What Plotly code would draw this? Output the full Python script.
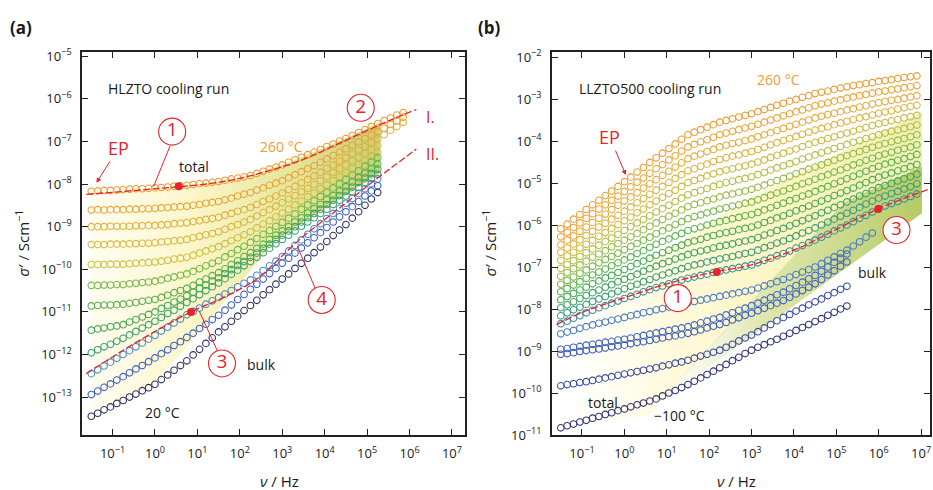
import plotly.graph_objects as go

# ---------------- data (log10 values) ----------------
FREQ_EXP = [-1.5, -1.35, -1.2, -1.05, -0.9, -0.75, -0.6, -0.45, -0.3, -0.15,
            0.0, 0.15, 0.3, 0.45, 0.6, 0.75, 0.9, 1.05, 1.2, 1.35,
            1.5, 1.65, 1.8, 1.95, 2.1, 2.25, 2.4, 2.55, 2.7, 2.85,
            3.0, 3.15, 3.3, 3.45, 3.6, 3.75, 3.9, 4.05, 4.2, 4.35,
            4.5, 4.65, 4.8, 4.95, 5.1, 5.25, 5.4, 5.55, 5.7, 5.85,
            6.0, 6.15, 6.3, 6.45, 6.6, 6.75, 6.9]

# panel (a) HLZTO, 260 C (top) ... 20 C (bottom), log10(sigma / S cm-1)
HLZTO_R1 = [-8.17, -8.16, -8.15, -8.15, -8.14, -8.13, -8.12, -8.11, -8.11, -8.10, -8.09, -8.08, -8.07, -8.05, -8.04, -8.03, -8.01, -7.99, -7.98, -7.96, -7.94, -7.91, -7.88, -7.86, -7.83, -7.80, -7.75, -7.70, -7.65, -7.60, -7.55, -7.49, -7.43, -7.37, -7.31, -7.25, -7.19, -7.12, -7.06, -6.99, -6.93, -6.86, -6.79, -6.72, -6.65, -6.58, -6.51, -6.45, -6.38, -6.32]
HLZTO_R2 = [-8.61, -8.60, -8.61, -8.60, -8.60, -8.60, -8.59, -8.59, -8.58, -8.58, -8.57, -8.56, -8.55, -8.54, -8.53, -8.52, -8.50, -8.48, -8.45, -8.43, -8.41, -8.37, -8.33, -8.28, -8.24, -8.20, -8.14, -8.09, -8.03, -7.98, -7.92, -7.85, -7.78, -7.71, -7.64, -7.57, -7.49, -7.41, -7.33, -7.25, -7.17, -7.09, -7.01, -6.93, -6.85, -6.77, -6.69, -6.60, -6.52, -6.43]
HLZTO_R3 = [-9.00, -9.00, -9.00, -8.99, -8.99, -8.99, -8.99, -8.98, -8.98, -8.97, -8.97, -8.96, -8.95, -8.93, -8.92, -8.91, -8.88, -8.86, -8.83, -8.81, -8.78, -8.73, -8.69, -8.64, -8.60, -8.55, -8.48, -8.41, -8.35, -8.28, -8.21, -8.13, -8.05, -7.97, -7.89, -7.81, -7.72, -7.63, -7.55, -7.46, -7.38, -7.29, -7.20, -7.12, -7.03, -6.94, -6.84, -6.74, -6.65, -6.55]
HLZTO_R4 = [-9.42, -9.42, -9.42, -9.41, -9.41, -9.41, -9.40, -9.40, -9.39, -9.39, -9.38, -9.36, -9.35, -9.33, -9.32, -9.30, -9.26, -9.23, -9.19, -9.16, -9.12, -9.06, -9.00, -8.95, -8.89, -8.83, -8.75, -8.67, -8.60, -8.52, -8.44, -8.35, -8.27, -8.18, -8.10, -8.01, -7.92, -7.83, -7.73, -7.64, -7.55, -7.46, -7.37, -7.28, -7.19, -7.10]
HLZTO_R5 = [-9.89, -9.89, -9.89, -9.88, -9.88, -9.88, -9.87, -9.86, -9.85, -9.84, -9.83, -9.81, -9.79, -9.76, -9.74, -9.72, -9.67, -9.62, -9.57, -9.52, -9.47, -9.40, -9.33, -9.26, -9.19, -9.12, -9.03, -8.94, -8.86, -8.77, -8.68, -8.59, -8.49, -8.40, -8.30, -8.21, -8.11, -8.02, -7.92, -7.83, -7.73, -7.63, -7.54, -7.44, -7.35, -7.25]
HLZTO_R6 = [-10.38, -10.38, -10.37, -10.37, -10.36, -10.36, -10.34, -10.33, -10.31, -10.30, -10.28, -10.25, -10.21, -10.18, -10.14, -10.11, -10.05, -9.99, -9.92, -9.86, -9.80, -9.71, -9.63, -9.54, -9.46, -9.37, -9.28, -9.18, -9.09, -8.99, -8.90, -8.80, -8.70, -8.59, -8.49, -8.39, -8.29, -8.19, -8.09, -7.99, -7.89, -7.79, -7.69, -7.58, -7.48, -7.38]
HLZTO_R7 = [-10.86, -10.85, -10.84, -10.84, -10.83, -10.82, -10.80, -10.78, -10.75, -10.73, -10.71, -10.66, -10.61, -10.55, -10.50, -10.45, -10.38, -10.30, -10.23, -10.15, -10.08, -9.99, -9.89, -9.80, -9.70, -9.61, -9.51, -9.41, -9.30, -9.20, -9.10, -9.00, -8.89, -8.79, -8.68, -8.58, -8.48, -8.37, -8.27, -8.16, -8.06, -7.95, -7.85, -7.74, -7.64, -7.53]
HLZTO_R8 = [-11.43, -11.40, -11.38, -11.35, -11.33, -11.30, -11.24, -11.18, -11.12, -11.06, -11.00, -10.92, -10.85, -10.77, -10.70, -10.62, -10.54, -10.45, -10.37, -10.28, -10.20, -10.10, -10.01, -9.91, -9.82, -9.72, -9.62, -9.51, -9.41, -9.30, -9.20, -9.10, -9.00, -8.89, -8.79, -8.69, -8.59, -8.48, -8.38, -8.27, -8.17, -8.07, -7.96, -7.86, -7.75, -7.65]
HLZTO_R9 = [-11.96, -11.89, -11.82, -11.76, -11.69, -11.62, -11.54, -11.46, -11.38, -11.30, -11.22, -11.13, -11.04, -10.96, -10.87, -10.78, -10.69, -10.60, -10.50, -10.41, -10.32, -10.22, -10.12, -10.02, -9.92, -9.82, -9.72, -9.61, -9.51, -9.40, -9.30, -9.20, -9.10, -8.99, -8.89, -8.79, -8.69, -8.59, -8.48, -8.38, -8.28, -8.18, -8.08, -7.97, -7.87, -7.77]
HLZTO_R10 = [-12.45, -12.36, -12.27, -12.18, -12.09, -12.00, -11.91, -11.82, -11.73, -11.64, -11.55, -11.45, -11.36, -11.26, -11.17, -11.07, -10.99, -10.91, -10.82, -10.74, -10.66, -10.58, -10.50, -10.41, -10.33, -10.25, -10.14, -10.03, -9.92, -9.81, -9.70, -9.57, -9.44, -9.31, -9.18, -9.05, -8.93, -8.81, -8.69, -8.57, -8.45, -8.34, -8.22, -8.11, -7.99, -7.88]
HLZTO_R11 = [-12.94, -12.86, -12.77, -12.69, -12.60, -12.52, -12.43, -12.34, -12.26, -12.17, -12.08, -11.98, -11.89, -11.79, -11.70, -11.60, -11.50, -11.39, -11.29, -11.18, -11.08, -10.96, -10.84, -10.71, -10.59, -10.47, -10.35, -10.23, -10.10, -9.98, -9.86, -9.74, -9.62, -9.50, -9.38, -9.26, -9.14, -9.02, -8.89, -8.77, -8.65, -8.53, -8.41, -8.28, -8.16, -8.04]
HLZTO_R12 = [-13.45, -13.38, -13.30, -13.23, -13.15, -13.08, -13.00, -12.93, -12.85, -12.78, -12.70, -12.59, -12.48, -12.37, -12.26, -12.15, -12.01, -11.88, -11.74, -11.61, -11.47, -11.35, -11.22, -11.10, -10.97, -10.85, -10.73, -10.60, -10.48, -10.35, -10.23, -10.11, -9.98, -9.86, -9.74, -9.61, -9.48, -9.35, -9.21, -9.08, -8.95, -8.80, -8.65, -8.50, -8.35, -8.20]
HLZTO_SERIES = [HLZTO_R1, HLZTO_R2, HLZTO_R3, HLZTO_R4, HLZTO_R5, HLZTO_R6,
                HLZTO_R7, HLZTO_R8, HLZTO_R9, HLZTO_R10, HLZTO_R11, HLZTO_R12]
HLZTO_COLORS = ["#EE9A2E", "#EAA336", "#E2AE3A", "#D8B73E", "#CDBF42", "#72B846",
                "#55B04A", "#44A85A", "#3AA070", "#4A8ACB", "#3E5EC0", "#2E3262"]

# fitted lines of panel (a)
FIT_I_F = [-1.62, 0.0, 1.5, 2.5, 3.5, 4.5, 5.5, 6.16]
FIT_I_S = [-8.24, -8.11, -7.96, -7.74, -7.42, -6.97, -6.52, -6.25]
FIT_II_F = [-1.62, -0.5, 0.85, 1.6, 2.38, 3.4, 4.3, 5.22, 6.16]
FIT_II_S = [-12.45, -11.75, -11.0, -10.67, -10.24, -9.31, -8.6, -7.88, -7.18]

# panel (b) LLZTO500, 260 C (top) ... -100 C (bottom)
LLZTO_T1 = [-6.09, -5.98, -5.86, -5.75, -5.63, -5.52, -5.41, -5.30, -5.19, -5.08, -4.97, -4.86, -4.74, -4.63, -4.51, -4.40, -4.29, -4.18, -4.07, -3.96, -3.85, -3.79, -3.73, -3.67, -3.61, -3.55, -3.51, -3.47, -3.43, -3.39, -3.35, -3.30, -3.25, -3.20, -3.15, -3.10, -3.05, -3.01, -2.96, -2.92, -2.87, -2.84, -2.81, -2.77, -2.74, -2.71, -2.68, -2.66, -2.63, -2.61, -2.58, -2.56, -2.54, -2.51, -2.49, -2.47, -2.45]
LLZTO_T2 = [-6.28, -6.17, -6.06, -5.95, -5.84, -5.73, -5.62, -5.52, -5.41, -5.31, -5.20, -5.09, -4.98, -4.88, -4.77, -4.66, -4.56, -4.45, -4.35, -4.24, -4.14, -4.08, -4.02, -3.97, -3.91, -3.85, -3.81, -3.77, -3.73, -3.69, -3.65, -3.60, -3.55, -3.50, -3.45, -3.40, -3.35, -3.30, -3.26, -3.21, -3.16, -3.12, -3.09, -3.05, -3.02, -2.98, -2.95, -2.92, -2.89, -2.86, -2.83, -2.81, -2.78, -2.76, -2.73, -2.71, -2.68]
LLZTO_T3 = [-6.47, -6.36, -6.26, -6.15, -6.05, -5.94, -5.84, -5.74, -5.63, -5.53, -5.43, -5.33, -5.23, -5.12, -5.02, -4.92, -4.82, -4.72, -4.62, -4.52, -4.42, -4.36, -4.31, -4.25, -4.20, -4.14, -4.10, -4.06, -4.03, -3.99, -3.95, -3.90, -3.85, -3.80, -3.75, -3.70, -3.65, -3.60, -3.55, -3.50, -3.45, -3.41, -3.37, -3.34, -3.30, -3.26, -3.23, -3.19, -3.16, -3.12, -3.09, -3.06, -3.03, -3.01, -2.98, -2.95, -2.92]
LLZTO_T4 = [-6.65, -6.55, -6.45, -6.35, -6.25, -6.15, -6.05, -5.96, -5.86, -5.77, -5.67, -5.57, -5.47, -5.37, -5.27, -5.17, -5.08, -4.99, -4.89, -4.80, -4.71, -4.66, -4.60, -4.55, -4.49, -4.44, -4.40, -4.36, -4.33, -4.29, -4.25, -4.20, -4.15, -4.09, -4.04, -3.99, -3.94, -3.89, -3.84, -3.79, -3.74, -3.70, -3.66, -3.61, -3.57, -3.53, -3.49, -3.45, -3.42, -3.38, -3.34, -3.31, -3.28, -3.24, -3.21, -3.18, -3.15]
LLZTO_T5 = [-6.84, -6.74, -6.65, -6.55, -6.46, -6.36, -6.27, -6.18, -6.08, -5.99, -5.90, -5.81, -5.71, -5.62, -5.52, -5.43, -5.34, -5.25, -5.17, -5.08, -4.99, -4.94, -4.89, -4.83, -4.78, -4.73, -4.69, -4.66, -4.62, -4.59, -4.55, -4.50, -4.45, -4.39, -4.34, -4.29, -4.24, -4.19, -4.13, -4.08, -4.03, -3.99, -3.94, -3.90, -3.85, -3.81, -3.77, -3.72, -3.68, -3.63, -3.59, -3.56, -3.52, -3.49, -3.45, -3.42, -3.39]
LLZTO_T6 = [-7.03, -6.94, -6.85, -6.75, -6.66, -6.57, -6.48, -6.39, -6.31, -6.22, -6.13, -6.04, -5.95, -5.87, -5.78, -5.69, -5.61, -5.53, -5.44, -5.36, -5.28, -5.23, -5.18, -5.13, -5.08, -5.03, -4.99, -4.96, -4.92, -4.89, -4.85, -4.80, -4.75, -4.69, -4.64, -4.59, -4.54, -4.49, -4.43, -4.38, -4.33, -4.28, -4.23, -4.18, -4.13, -4.08, -4.03, -3.99, -3.94, -3.90, -3.85, -3.81, -3.77, -3.74, -3.70, -3.66, -3.62]
LLZTO_T7 = [-7.22, -7.13, -7.04, -6.95, -6.86, -6.77, -6.69, -6.61, -6.52, -6.44, -6.36, -6.28, -6.20, -6.11, -6.03, -5.95, -5.87, -5.79, -5.72, -5.64, -5.56, -5.51, -5.47, -5.42, -5.38, -5.33, -5.29, -5.26, -5.22, -5.19, -5.15, -5.10, -5.05, -4.99, -4.94, -4.89, -4.84, -4.78, -4.73, -4.67, -4.62, -4.57, -4.51, -4.46, -4.40, -4.35, -4.30, -4.25, -4.20, -4.15, -4.10, -4.06, -4.02, -3.98, -3.94, -3.90, -3.85]
LLZTO_T8 = [-7.41, -7.32, -7.24, -7.15, -7.07, -6.98, -6.90, -6.82, -6.75, -6.67, -6.59, -6.51, -6.44, -6.36, -6.29, -6.21, -6.14, -6.07, -5.99, -5.92, -5.85, -5.80, -5.76, -5.71, -5.67, -5.62, -5.59, -5.55, -5.52, -5.48, -5.45, -5.40, -5.35, -5.29, -5.24, -5.19, -5.13, -5.08, -5.02, -4.97, -4.91, -4.85, -4.80, -4.74, -4.69, -4.63, -4.57, -4.52, -4.46, -4.41, -4.35, -4.31, -4.27, -4.22, -4.18, -4.14, -4.09]
LLZTO_T9 = [-7.59, -7.51, -7.43, -7.35, -7.27, -7.19, -7.12, -7.05, -6.97, -6.90, -6.83, -6.76, -6.68, -6.61, -6.53, -6.46, -6.39, -6.33, -6.26, -6.20, -6.13, -6.09, -6.05, -6.00, -5.96, -5.92, -5.89, -5.85, -5.82, -5.78, -5.75, -5.70, -5.64, -5.59, -5.53, -5.48, -5.42, -5.37, -5.31, -5.26, -5.20, -5.14, -5.08, -5.02, -4.96, -4.90, -4.84, -4.78, -4.72, -4.66, -4.60, -4.55, -4.51, -4.46, -4.42, -4.37, -4.32]
LLZTO_T10 = [-7.78, -7.70, -7.63, -7.55, -7.48, -7.40, -7.33, -7.26, -7.20, -7.13, -7.06, -6.99, -6.92, -6.86, -6.79, -6.72, -6.66, -6.60, -6.54, -6.48, -6.42, -6.38, -6.34, -6.29, -6.25, -6.21, -6.18, -6.15, -6.11, -6.08, -6.05, -6.00, -5.94, -5.89, -5.83, -5.78, -5.72, -5.66, -5.61, -5.55, -5.49, -5.43, -5.37, -5.30, -5.24, -5.18, -5.12, -5.05, -4.99, -4.92, -4.86, -4.81, -4.76, -4.71, -4.66, -4.61, -4.56]
LLZTO_T11 = [-7.97, -7.90, -7.83, -7.75, -7.68, -7.61, -7.55, -7.48, -7.42, -7.35, -7.29, -7.23, -7.17, -7.10, -7.04, -6.98, -6.92, -6.87, -6.81, -6.76, -6.70, -6.66, -6.62, -6.59, -6.55, -6.51, -6.48, -6.45, -6.41, -6.38, -6.35, -6.30, -6.24, -6.19, -6.13, -6.08, -6.02, -5.96, -5.90, -5.84, -5.78, -5.71, -5.65, -5.58, -5.52, -5.45, -5.38, -5.31, -5.25, -5.18, -5.11, -5.06, -5.01, -4.95, -4.90, -4.85, -4.79]
LLZTO_T12 = [-8.16, -8.09, -8.02, -7.96, -7.89, -7.82, -7.76, -7.70, -7.64, -7.58, -7.52, -7.46, -7.41, -7.35, -7.30, -7.24, -7.19, -7.14, -7.09, -7.04, -6.99, -6.95, -6.92, -6.88, -6.85, -6.81, -6.78, -6.75, -6.71, -6.68, -6.65, -6.60, -6.54, -6.49, -6.43, -6.38, -6.32, -6.26, -6.19, -6.13, -6.07, -6.00, -5.93, -5.86, -5.79, -5.72, -5.65, -5.58, -5.50, -5.43, -5.36, -5.31, -5.25, -5.20, -5.14, -5.09, -5.02]
LLZTO_T13 = [-8.35, -8.29, -8.22, -8.16, -8.09, -8.03, -7.97, -7.92, -7.86, -7.81, -7.75, -7.70, -7.65, -7.59, -7.54, -7.49, -7.45, -7.40, -7.36, -7.31, -7.27, -7.24, -7.20, -7.17, -7.13, -7.10, -7.07, -7.04, -7.01, -6.98, -6.95, -6.90, -6.84, -6.79, -6.73, -6.68, -6.62, -6.55, -6.49, -6.42, -6.36, -6.29, -6.22, -6.14, -6.07, -6.00, -5.92, -5.84, -5.77, -5.69, -5.61, -5.55, -5.49, -5.44, -5.38, -5.32, -5.26]
LLZTO_B1 = [-8.59, -8.55, -8.51, -8.46, -8.42, -8.38, -8.34, -8.31, -8.27, -8.24, -8.20, -8.16, -8.13, -8.09, -8.06, -8.02, -7.99, -7.95, -7.92, -7.88, -7.85, -7.82, -7.79, -7.76, -7.73, -7.70, -7.67, -7.64, -7.61, -7.58, -7.55, -7.50, -7.45, -7.40, -7.35, -7.30, -7.24, -7.18, -7.12, -7.06, -7.00, -6.92, -6.84, -6.76, -6.68, -6.60, -6.50, -6.40, -6.29, -6.19]
LLZTO_B2 = [-8.96, -8.94, -8.91, -8.89, -8.86, -8.84, -8.82, -8.79, -8.77, -8.74, -8.72, -8.69, -8.66, -8.63, -8.60, -8.57, -8.54, -8.51, -8.48, -8.45, -8.42, -8.38, -8.33, -8.29, -8.24, -8.20, -8.14, -8.09, -8.03, -7.98, -7.92, -7.86, -7.79, -7.73, -7.66, -7.60, -7.52, -7.44, -7.36, -7.28, -7.20, -7.10, -7.00, -6.89, -6.79, -6.69]
LLZTO_B3 = [-9.08, -9.06, -9.04, -9.01, -8.99, -8.97, -8.95, -8.93, -8.90, -8.88, -8.86, -8.83, -8.80, -8.78, -8.75, -8.72, -8.69, -8.66, -8.64, -8.61, -8.58, -8.54, -8.50, -8.45, -8.41, -8.37, -8.32, -8.26, -8.21, -8.15, -8.10, -8.04, -7.98, -7.92, -7.86, -7.80, -7.72, -7.64, -7.56, -7.48, -7.40, -7.30, -7.19, -7.09, -6.98, -6.88]
LLZTO_N1 = [-9.83, -9.80, -9.78, -9.75, -9.73, -9.70, -9.67, -9.64, -9.61, -9.58, -9.55, -9.52, -9.49, -9.46, -9.43, -9.40, -9.36, -9.33, -9.29, -9.26, -9.22, -9.17, -9.12, -9.08, -9.03, -8.98, -8.91, -8.84, -8.76, -8.69, -8.62, -8.54, -8.45, -8.37, -8.28, -8.20, -8.13, -8.05, -7.98, -7.90, -7.83, -7.76, -7.68, -7.61, -7.53, -7.46]
LLZTO_N2 = [-10.83, -10.78, -10.74, -10.69, -10.65, -10.60, -10.56, -10.51, -10.47, -10.42, -10.38, -10.33, -10.28, -10.24, -10.19, -10.14, -10.07, -10.00, -9.94, -9.87, -9.80, -9.72, -9.64, -9.56, -9.48, -9.40, -9.32, -9.23, -9.15, -9.06, -8.98, -8.91, -8.85, -8.78, -8.72, -8.65, -8.58, -8.51, -8.44, -8.37, -8.30, -8.23, -8.15, -8.08, -8.00, -7.93]
LLZTO_SERIES = [LLZTO_T1, LLZTO_T2, LLZTO_T3, LLZTO_T4, LLZTO_T5, LLZTO_T6, LLZTO_T7,
                LLZTO_T8, LLZTO_T9, LLZTO_T10, LLZTO_T11, LLZTO_T12, LLZTO_T13,
                LLZTO_B1, LLZTO_B2, LLZTO_B3, LLZTO_N1, LLZTO_N2]
LLZTO_COLORS = ["#EE9A2E", "#EEA232", "#E8AA38", "#DDB23C", "#CDB840", "#B5BC44", "#98BC46",
                "#78B848", "#5CB24C", "#48AA56", "#3EA266", "#3A9A7E", "#3C8CA0",
                "#4A7CC8", "#4268C2", "#3C5CBA", "#3A4AA6", "#2F3478"]

FIT_B_F = [-1.6, -0.92, -0.14, 1.04, 2.06, 3.0, 4.18, 4.58, 6.0, 7.2]
FIT_B_S = [-8.37, -8.05, -7.78, -7.39, -7.13, -6.95, -6.52, -6.32, -5.61, -5.14]

# shaded regions (outline vertices, log10 units)
SHADE_A_LOW_F = [5.3, 5.3, 2.87, -0.05, -1.5]
SHADE_A_LOW_S = [-6.56, -7.75, -9.29, -12.75, -13.38]
SHADE_BY_F = [-1.5, 0.6, 5.2, 7.02, 7.02, 3.0, 0.65, -1.5]
SHADE_BY_S = [-10.9, -10.5, -5.45, -4.6, -3.3, -5.33, -6.83, -8.3]
SHADE_BG_F = [0.6, 7.02, 7.02, 5.2, 2.69]
SHADE_BG_S = [-10.4, -5.72, -4.6, -5.45, -8.14]

X_TICK_EXP = [-1, 0, 1, 2, 3, 4, 5, 6, 7]
YA_TICK_EXP = [-13, -12, -11, -10, -9, -8, -7, -6, -5]
YB_TICK_EXP = [-11, -10, -9, -8, -7, -6, -5, -4, -3, -2]

RED = "#E8232B"
ORANGE = "#F29B30"
FONT = "Open Sans"


def p10(vals):
    return [10 ** v for v in vals]


def sup(e):
    return "10<sup>" + str(e).replace("-", "\u2212") + "</sup>"


fig = go.Figure()

# ---------- shading ----------
fig.add_trace(go.Scatter(
    x=p10(FREQ_EXP[:46] + SHADE_A_LOW_F), y=p10(HLZTO_R1[:46] + SHADE_A_LOW_S),
    mode="lines", line=dict(width=0), fill="toself",
    fillgradient=dict(type="horizontal", colorscale=[
        [0, "rgba(255,251,228,0.6)"], [0.35, "rgba(252,245,195,0.9)"],
        [0.7, "rgba(228,228,150,0.95)"], [1, "rgba(196,204,110,0.95)"]]),
    xaxis="x", yaxis="y", hoverinfo="skip"))
fig.add_trace(go.Scatter(
    x=p10(SHADE_BY_F), y=p10(SHADE_BY_S), mode="lines", line=dict(width=0), fill="toself",
    fillgradient=dict(type="horizontal", colorscale=[
        [0, "rgba(255,252,230,0)"], [0.3, "rgba(255,248,208,0.75)"],
        [0.6, "rgba(252,244,188,0.9)"], [1, "rgba(236,238,172,0.9)"]]),
    xaxis="x2", yaxis="y2", hoverinfo="skip"))
fig.add_trace(go.Scatter(
    x=p10(SHADE_BG_F), y=p10(SHADE_BG_S), mode="lines", line=dict(width=0), fill="toself",
    fillgradient=dict(type="horizontal", colorscale=[
        [0, "rgba(240,242,210,0)"], [0.4, "rgba(214,224,150,0.75)"],
        [1, "rgba(176,200,92,0.95)"]]),
    xaxis="x2", yaxis="y2", hoverinfo="skip"))

# ---------- data ----------
for vals, col in zip(HLZTO_SERIES, HLZTO_COLORS):
    fig.add_trace(go.Scatter(
        x=p10(FREQ_EXP[:len(vals)]), y=p10(vals), mode="markers",
        marker=dict(symbol="circle-open", size=6.6, color=col, line=dict(width=1.1)),
        xaxis="x", yaxis="y"))
for vals, col in zip(LLZTO_SERIES, LLZTO_COLORS):
    fig.add_trace(go.Scatter(
        x=p10(FREQ_EXP[:len(vals)]), y=p10(vals), mode="markers",
        marker=dict(symbol="circle-open", size=6.6, color=col, line=dict(width=1.1)),
        xaxis="x2", yaxis="y2"))

# ---------- red fit lines ----------
for fx, fy, xa, ya in [(FIT_I_F, FIT_I_S, "x", "y"), (FIT_II_F, FIT_II_S, "x", "y"),
                       (FIT_B_F, FIT_B_S, "x2", "y2")]:
    fig.add_trace(go.Scatter(x=p10(fx), y=p10(fy), mode="lines", line_shape="spline",
                             line=dict(color=RED, width=1.3, dash="7px,2.5px"),
                             xaxis=xa, yaxis=ya, cliponaxis=False))

# leader lines (panel a)
for (f0, s0, f1, s1) in [(0.358, -7.10, -0.035, -8.06), (1.047, -10.99, 1.478, -11.93),
                         (3.36, -9.47, 3.79, -10.48)]:
    fig.add_trace(go.Scatter(x=p10([f0, f1]), y=p10([s0, s1]), mode="lines",
                             line=dict(color=RED, width=1), xaxis="x", yaxis="y"))

# red dots
fig.add_trace(go.Scatter(x=p10([0.56, 0.85]), y=p10([-8.05, -11.0]), mode="markers",
                         marker=dict(color=RED, size=8), xaxis="x", yaxis="y"))
fig.add_trace(go.Scatter(x=p10([2.18, 5.99]), y=p10([-7.12, -5.62]), mode="markers",
                         marker=dict(color=RED, size=8), xaxis="x2", yaxis="y2"))

# numbered circles
for (f, s, t, xa, ya) in [(0.405, -6.77, "1", "x", "y"), (4.85, -6.21, "2", "x", "y"),
                          (1.58, -12.21, "3", "x", "y"), (3.93, -10.72, "4", "x", "y"),
                          (1.26, -7.74, "1", "x2", "y2"), (6.42, -6.12, "3", "x2", "y2")]:
    fig.add_trace(go.Scatter(
        x=[10 ** f], y=[10 ** s], mode="markers+text", text=[t],
        textposition="middle center", textfont=dict(size=19, color=RED, family=FONT),
        marker=dict(symbol="circle", size=27, color="white", line=dict(color=RED, width=1.1)),
        xaxis=xa, yaxis=ya, cliponaxis=False))

# ---------- layout ----------
axis_common = dict(type="log", showgrid=False, zeroline=False, showline=True,
                   linecolor="#222", linewidth=1.5, mirror="ticks", ticks="inside",
                   ticklen=6, tickwidth=1.2, tickcolor="#222",
                   tickfont=dict(size=13, family=FONT, color="#1a1a1a"))
xt = dict(tickvals=p10(X_TICK_EXP), ticktext=[sup(e) for e in X_TICK_EXP], ticklabelstandoff=6)

fig.update_layout(
    width=933, height=490, showlegend=False,
    margin=dict(l=82, r=1, t=52, b=55),
    paper_bgcolor="white", plot_bgcolor="white",
    font=dict(family=FONT, color="#1a1a1a"),
    xaxis=dict(axis_common, domain=[0, 0.4518], range=[-1.72, 7.31], anchor="y", **xt),
    yaxis=dict(axis_common, domain=[0, 1], range=[-13.89, -4.9], anchor="x",
               tickvals=p10(YA_TICK_EXP), ticktext=[sup(e) for e in YA_TICK_EXP],
               ticklabelstandoff=6),
    xaxis2=dict(axis_common, domain=[0.5541, 1.0], range=[-1.71, 7.21], anchor="y2", **xt),
    yaxis2=dict(axis_common, domain=[0, 1], range=[-11.0, -1.88], anchor="x2",
                tickvals=p10(YB_TICK_EXP), ticktext=[sup(e) for e in YB_TICK_EXP],
                ticklabelstandoff=6),
)


def txt(x, y, s, size=14, color="#1a1a1a", xanchor="left", **kw):
    fig.add_annotation(x=x, y=y, xref="paper", yref="paper", text=s, showarrow=False,
                       xanchor=xanchor, yanchor="middle",
                       font=dict(size=size, color=color, family=FONT), **kw)


txt(-0.0718, 1.063, "<b>(a)</b>", size=17, xanchor="center")
txt(0.481, 1.063, "<b>(b)</b>", size=17, xanchor="center")
txt(0.0282, 0.906, "HLZTO cooling run")
txt(0.2071, 0.752, "260 °C", color=ORANGE)
txt(0.1118, 0.700, "total")
txt(0.1918, 0.183, "bulk")
txt(0.0718, 0.060, "20 °C")
txt(0.4035, 0.830, "I.", size=16, color=RED)
txt(0.4035, 0.734, "II.", size=16, color=RED)
txt(0.5835, 0.906, "LLZTO500 cooling run")
txt(0.7941, 0.927, "260 °C", color=ORANGE)
txt(0.9129, 0.423, "bulk")
txt(0.5941, 0.086, "total")
txt(0.6718, 0.052, "\u2212100 °C")
txt(-0.0706, 0.5, "<i>σ</i>′ / Scm<sup>\u22121</sup>", size=15, xanchor="center", textangle=-90)
txt(0.48, 0.5, "<i>σ</i>′ / Scm<sup>\u22121</sup>", size=15, xanchor="center", textangle=-90)
txt(0.233, -0.12, "<i>ν</i> / Hz", size=15, xanchor="center")
txt(0.772, -0.12, "<i>ν</i> / Hz", size=15, xanchor="center")

# EP arrows (log10 coordinates for annotations on log axes)
fig.add_annotation(x=-1.38, y=-7.97, xref="x", yref="y", text="EP", showarrow=True,
                   arrowhead=2, arrowsize=1, arrowwidth=1, arrowcolor=RED,
                   ax=22, ay=-35, font=dict(size=18, color=RED, family=FONT))
fig.add_annotation(x=0.035, y=-4.81, xref="x2", yref="y2", text="EP", showarrow=True,
                   arrowhead=2, arrowsize=1, arrowwidth=1, arrowcolor=RED,
                   ax=-16, ay=-38, font=dict(size=18, color=RED, family=FONT))

fig.write_html("out.html", config={"displayModeBar": False},
               post_script="document.body.style.margin='0px';"
                           "document.body.style.overflow='hidden';")
